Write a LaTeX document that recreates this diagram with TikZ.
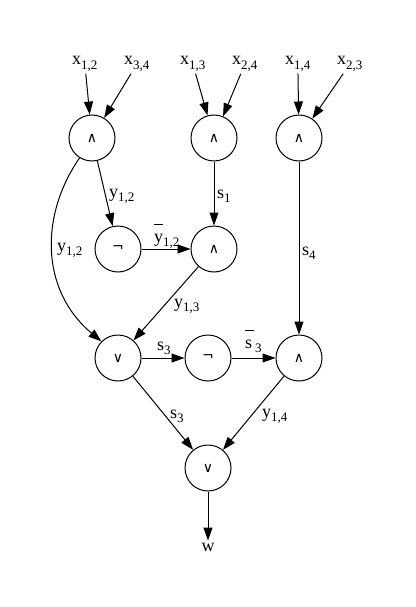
\documentclass[tikz,border=0pt]{standalone}
\usepackage{fontspec}
\setmainfont{Liberation Serif}
\newfontfamily\gatefont{DejaVu Sans}
\usetikzlibrary{arrows.meta,shapes}

\newcommand{\sublbl}[2]{#1\raisebox{-4.5pt}{\fontsize{13}{13}\selectfont #2}}
\newcommand{\barlbl}[1]{\rlap{\raisebox{17pt}{\rule{9pt}{1pt}}}#1}

\tikzset{
gate/.style={circle,draw,line width=1pt,minimum size=46pt,inner sep=0pt,
font=\gatefont\fontsize{14}{14}\selectfont},
wire/.style={line width=1pt,-{Triangle[length=13pt,width=9pt]}},
lbl/.style={font=\fontsize{18}{18}\selectfont,inner sep=2pt}
}

\begin{document}
\begin{tikzpicture}[x=1pt,y=-1pt]
\useasboundingbox (0,0) rectangle (415,607);
% inputs
\node[lbl,anchor=base west] (x12) at (70,65) {\sublbl{x}{1,2}};
\node[lbl,anchor=base west] (x34) at (122,65) {\sublbl{x}{3,4}};
\node[lbl,anchor=base west] (x13) at (178,65) {\sublbl{x}{1,3}};
\node[lbl,anchor=base west] (x24) at (230,65) {\sublbl{x}{2,4}};
\node[lbl,anchor=base west] (x14) at (283,65) {\sublbl{x}{1,4}};
\node[lbl,anchor=base west] (x23) at (335,65) {\sublbl{x}{2,3}};
% gates
\node[gate] (and1) at (92,138) {∧};
\node[gate] (and2) at (214,138) {∧};
\node[gate] (and3) at (299,138) {∧};
\node[gate] (not1) at (118,249) {¬};
\node[gate] (and4) at (214,249) {∧};
\node[gate] (or1) at (118,358) {∨};
\node[gate] (not2) at (208,358) {¬};
\node[gate] (and5) at (299,358) {∧};
\node[gate] (or2) at (208,468) {∨};
\node[lbl,anchor=base] (w) at (208,551) {w};
% wires
\draw[wire] (x12) -- (and1);
\draw[wire] (x34) -- (and1);
\draw[wire] (x13) -- (and2);
\draw[wire] (x24) -- (and2);
\draw[wire] (x14) -- (and3);
\draw[wire] (x23) -- (and3);
\draw[wire] (and1) -- (not1);
\draw[wire] (and1.-122) .. controls (40,215) and (40,290) .. (or1.135);
\draw[wire] (and2) -- (and4);
\draw[wire] (not1) -- (and4);
\draw[wire] (and4) -- (or1);
\draw[wire] (and3) -- (and5);
\draw[wire] (or1) -- (not2);
\draw[wire] (not2) -- (and5);
\draw[wire] (or1) -- (or2);
\draw[wire] (and5) -- (or2);
\draw[wire] (or2) -- (w);
% wire labels
\node[lbl,anchor=base west] (ly12) at (107,197) {\sublbl{y}{1,2}};
\node[lbl,anchor=base west] (ly12c) at (55,251) {\sublbl{y}{1,2}};
\node[lbl,anchor=base west] (ls1) at (215,198) {\sublbl{s}{1}};
\node[lbl,anchor=base west] (ls4) at (300,255) {\sublbl{s}{4}};
\node[lbl,anchor=base west] (lny12) at (152,242) {\sublbl{\barlbl{y}}{1,2}};
\node[lbl,anchor=base west] (ly13) at (172,307) {\sublbl{y}{1,3}};
\node[lbl,anchor=base west] (ls3) at (155,350) {\sublbl{s}{3}};
\node[lbl,anchor=base west] (lns3) at (243,348) {\sublbl{\barlbl{s}\,}{3}};
\node[lbl,anchor=base west] (ls3b) at (168,418) {\sublbl{s}{3}};
\node[lbl,anchor=base west] (ly14) at (260,417) {\sublbl{y}{1,4}};
\end{tikzpicture}
\end{document}
